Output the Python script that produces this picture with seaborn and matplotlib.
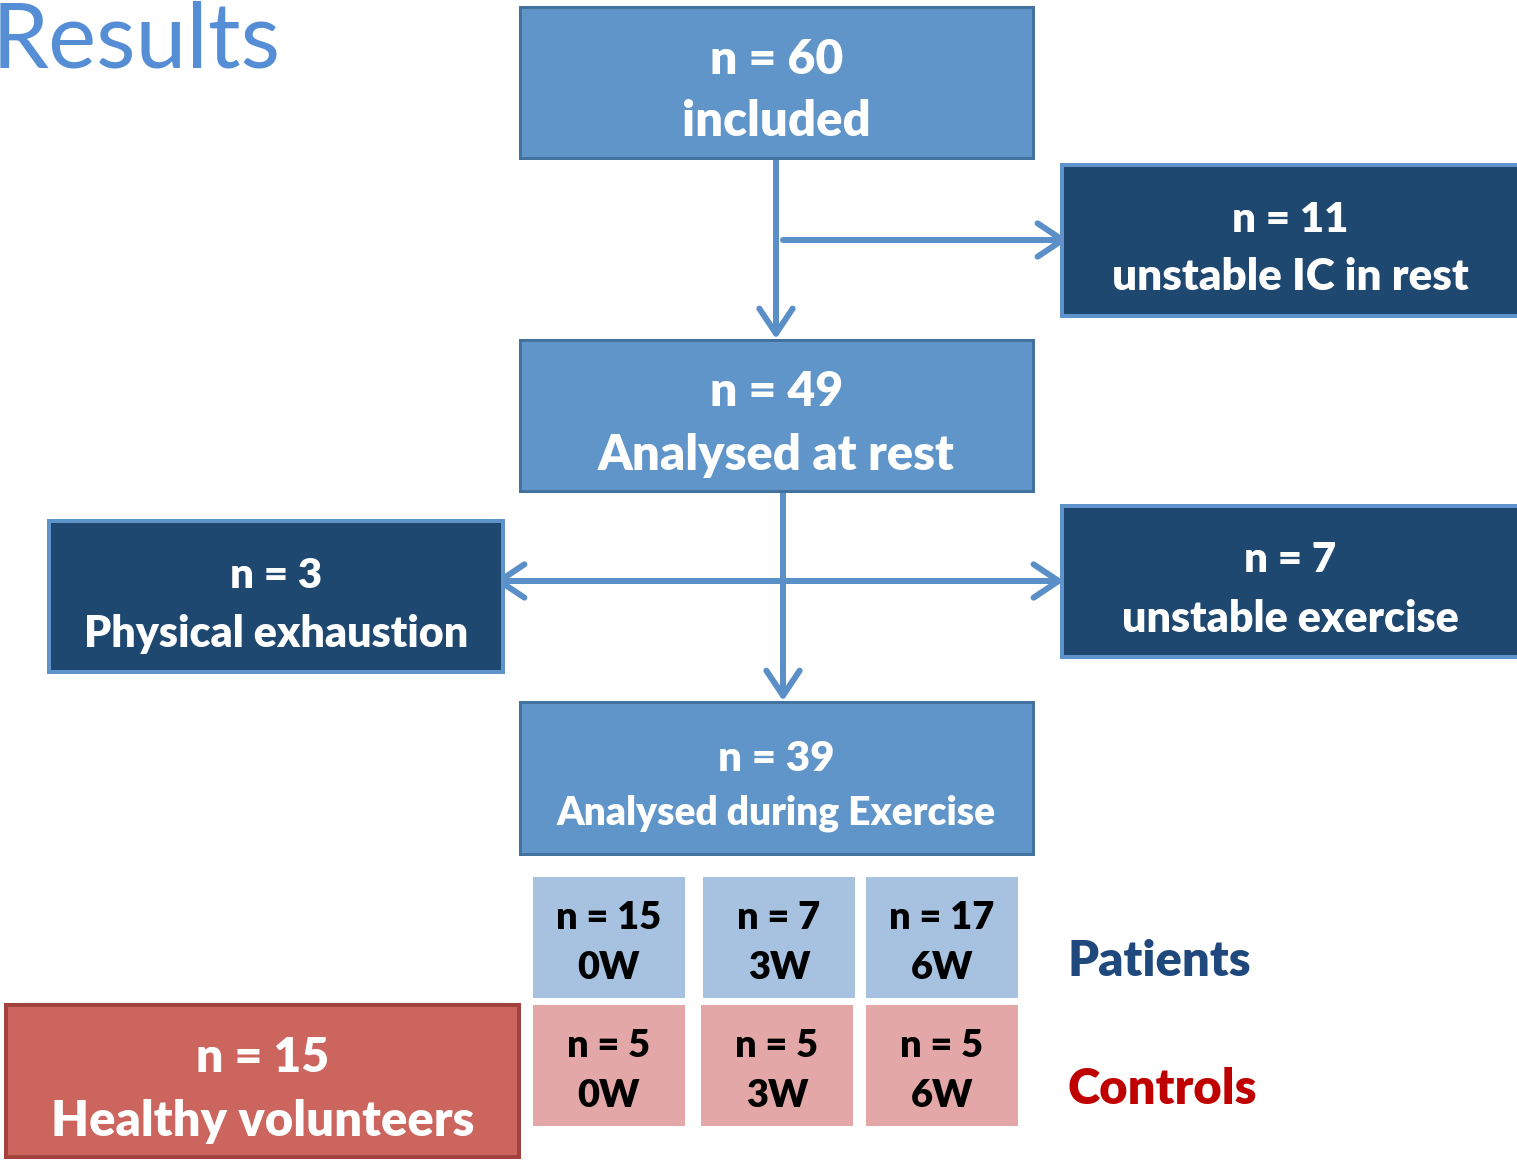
import matplotlib
matplotlib.use("Agg")
import matplotlib.pyplot as plt
from matplotlib.patches import Rectangle
import seaborn as sns

# ---- data -------------------------------------------------------------
stage_counts = [60, 11, 49, 3, 7, 39]
stage_labels = ["included", "unstable IC in rest", "Analysed at rest",
                "Physical exhaustion", "unstable exercise",
                "Analysed during Exercise"]
week_labels = ["0W", "3W", "6W"]
patient_counts = [15, 7, 17]
control_counts = [5, 5, 5]
healthy_count = 15
healthy_label = "Healthy volunteers"
group_labels = ["Patients", "Controls"]
title_text = "Results"

# ---- style ------------------------------------------------------------
sns.set_theme(style="white")
plt.rcParams["font.family"] = ["Lato", "DejaVu Sans"]
WEIGHT = "heavy"

MID = "#6095C9"
MID_EDGE = "#44729F"
DARK = "#1F4871"
DARK_EDGE = "#5E93CB"
ARROW = "#5B8FC8"
PAT = "#A7C1E0"
CTL = "#E2A7A6"
RED = "#CC655E"
RED_EDGE = "#A3423C"

W, H = 1517, 1160
fig = plt.figure(figsize=(W / 100, H / 100), dpi=100)
ax = fig.add_axes([0, 0, 1, 1])
ax.set_xlim(0, W)
ax.set_ylim(H, 0)
ax.axis("off")

PT = 0.72  # pixels -> points at 100 dpi

# layout of flow boxes: (x0, y0, x1, y1, style, count-size, label-size, line gap)
stage_boxes = [
    (520, 7, 1033, 158, "mid", 48, 49, 31),
    (1062, 165, 1530, 316, "dark", 42, 44, 29),
    (520, 340, 1033, 491, "mid", 48, 49, 32),
    (49, 521, 503, 672, "dark", 42, 43, 29),
    (1062, 506, 1530, 657, "dark", 42, 43, 29),
    (520, 702, 1033, 854, "mid", 42, 39, 27),
]


def draw_box(x0, y0, x1, y1, face, edge, lw):
    ax.add_patch(Rectangle((x0, y0), x1 - x0, y1 - y0, facecolor=face,
                           edgecolor=edge, linewidth=lw, zorder=2))


def two_lines(cx, cy, top, bottom, s1, s2, gap, color):
    ax.text(cx, cy - gap, top, ha="center", va="center", fontsize=s1 * PT,
            fontweight=WEIGHT, color=color, zorder=3)
    ax.text(cx, cy + gap, bottom, ha="center", va="center", fontsize=s2 * PT,
            fontweight=WEIGHT, color=color, zorder=3)


for (x0, y0, x1, y1, kind, s1, s2, gap), n, lab in zip(stage_boxes, stage_counts, stage_labels):
    if kind == "mid":
        draw_box(x0, y0, x1, y1, MID, MID_EDGE, 3 * PT)
        cx = (x0 + x1) / 2
    else:
        draw_box(x0, y0, x1, y1, DARK, DARK_EDGE, 4 * PT)
        cx = 1290 if x1 > W else (x0 + x1) / 2
    two_lines(cx, (y0 + y1) / 2 + 8, f"n = {n}", lab, s1, s2, gap, "white")

# ---- arrows -----------------------------------------------------------
astyle = "->,head_length=0.6,head_width=0.4"
arrows = [
    ((776, 160), (776, 339), astyle),
    ((783, 240), (1068, 240), astyle),
    ((783, 493), (783, 701), astyle),
    ((494, 581), (1064, 581), "<->,head_length=0.6,head_width=0.4"),
]
for (xa, ya), (xb, yb), st in arrows:
    ax.annotate("", xy=(xb, yb), xytext=(xa, ya),
                arrowprops=dict(arrowstyle=st, color=ARROW, lw=6 * PT,
                                mutation_scale=30, shrinkA=0, shrinkB=0,
                                capstyle="round", joinstyle="round"),
                zorder=1)

# ---- group cells ------------------------------------------------------
pat_x = [(533, 685), (703, 855), (866, 1018)]
ctl_x = [(533, 685), (701, 853), (866, 1018)]
for (x0, x1), n, wk in zip(pat_x, patient_counts, week_labels):
    ax.add_patch(Rectangle((x0, 877), x1 - x0, 121, facecolor=PAT,
                           edgecolor="none", zorder=2))
    two_lines((x0 + x1) / 2, 943, f"n = {n}", wk, 38, 38, 25, "black")
for (x0, x1), n, wk in zip(ctl_x, control_counts, week_labels):
    ax.add_patch(Rectangle((x0, 1005), x1 - x0, 121, facecolor=CTL,
                           edgecolor="none", zorder=2))
    two_lines((x0 + x1) / 2, 1071, f"n = {n}", wk, 38, 38, 25, "black")

# healthy volunteers
draw_box(6, 1005, 519, 1157, RED, RED_EDGE, 4 * PT)
two_lines(263, 1090, f"n = {healthy_count}", healthy_label, 48, 49, 32, "white")

ax.text(1068, 961, group_labels[0], ha="left", va="center",
        fontsize=49 * PT, fontweight=WEIGHT, color="#1F497D")
ax.text(1068, 1089, group_labels[1], ha="left", va="center",
        fontsize=49 * PT, fontweight=WEIGHT, color="#C00000")

# heading
ax.text(-8, 68, title_text, ha="left", va="baseline", fontsize=91 * PT,
        color="#558ED5")

fig.savefig("out.png", dpi=100)
